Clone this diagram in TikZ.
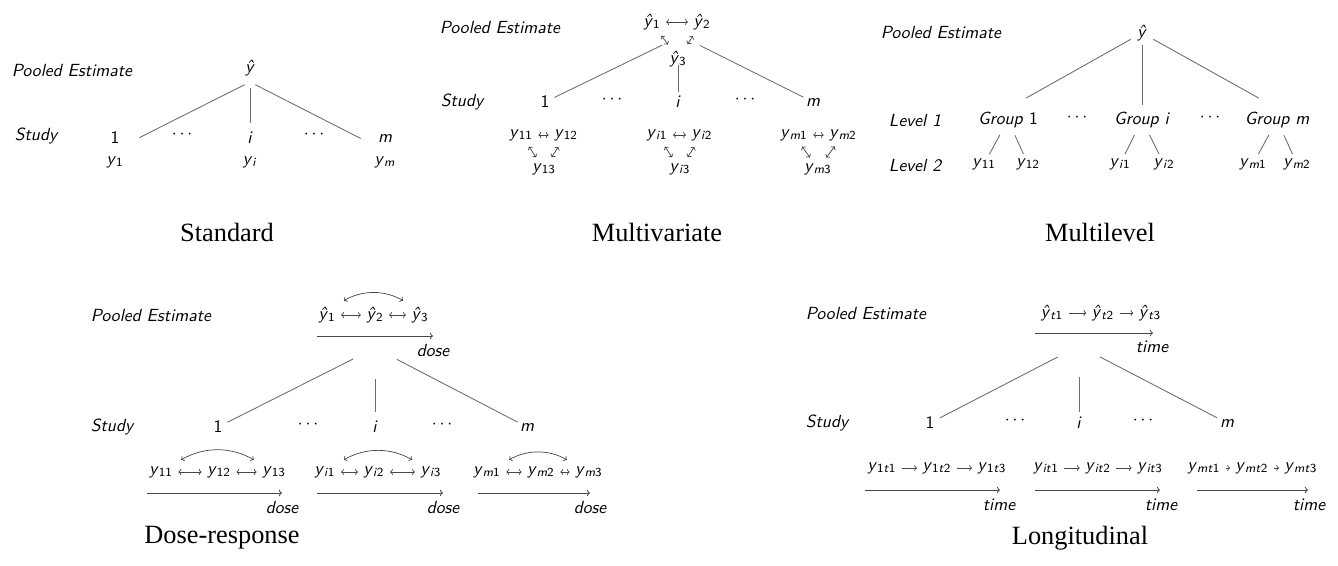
\documentclass[tikz,border=0pt]{standalone}
\usepackage{fontspec}
\usetikzlibrary{arrows.meta, fit}
\newfontfamily\captionserif{Liberation Serif}
\definecolor{branchgray}{RGB}{110, 110, 110}
\definecolor{linkgray}{RGB}{70, 70, 70}
\newcommand{\yy}[1]{\textit{y}\textsubscript{#1}}
\newcommand{\yh}[1]{\textit{ŷ}\textsubscript{#1}}
\tikzstyle{sym} = [font=\fontsize{10}{12}\selectfont\sffamily, inner sep=2pt]
\tikzstyle{lab} = [font=\fontsize{10}{12}\selectfont\sffamily\itshape, inner sep=2pt]
\tikzstyle{grp} = [inner sep=0pt]
\tikzstyle{branch} = [draw=branchgray, line width=0.5pt]
\tikzstyle{link} = [{To[length=1.6pt]}-{To[length=1.6pt]}, draw=linkgray, line width=0.4pt, shorten <=1pt, shorten >=1pt]
\tikzstyle{flow} = [-{To[length=1.6pt]}, draw=linkgray, line width=0.4pt, shorten <=1pt, shorten >=1pt]
\tikzstyle{trend} = [-{To[length=1.8pt]}, draw=linkgray, line width=0.45pt]
\tikzstyle{paneltitle} = [font=\captionserif\fontsize{15}{18}\selectfont]

\begin{document}
\begin{tikzpicture}[x=0.02cm, y=-0.02cm, every node/.style={sym}]
    \useasboundingbox (0,0) rectangle (1338,565);

    % Standard
    \node[lab] (pool1) at (72,70) {Pooled Estimate};
    \node[lab] (study1) at (36,136) {Study};
    \node (top1) at (250,68) {\textit{ŷ}};
    \node (s1a) at (115,138) {1};
    \node (s1dl) at (182,135) {$\cdots$};
    \node (s1i) at (250,138) {\textit{i}};
    \node (s1dr) at (314,135) {$\cdots$};
    \node (s1m) at (385,138) {\textit{m}};
    \node (y1a) at (115,162) {\yy{1}};
    \node (y1i) at (250,162) {\yy{\textit{i}}};
    \node (y1m) at (385,162) {\yy{\textit{m}}};
    \node[grp, fit=(s1a)(y1a)] (g1a) {};
    \node[grp, fit=(s1i)(y1i)] (g1i) {};
    \node[grp, fit=(s1m)(y1m)] (g1m) {};
    \coordinate (hub1) at (250,82);
    \draw[branch, shorten <=3.4pt, shorten >=15.5pt] (hub1) -- (g1a.center);
    \draw[branch, shorten <=3.4pt, shorten >=15.5pt] (hub1) -- (g1i.center);
    \draw[branch, shorten <=3.4pt, shorten >=15.5pt] (hub1) -- (g1m.center);
    \node[paneltitle] (title1) at (227,232) {Standard};

    % Multivariate
    \node[lab] (pool2) at (500,27) {Pooled Estimate};
    \node[lab] (study2) at (462,102) {Study};
    \node (t21) at (652,22) {\yh{1}};
    \node (t22) at (702,22) {\yh{2}};
    \node (t23) at (678,59) {\yh{3}};
    \draw[link] (t21) -- (t22);
    \draw[link, shorten <=9.5pt, shorten >=10pt] (t21.center) -- (t23.center);
    \draw[link, shorten <=9.5pt, shorten >=10pt] (t22.center) -- (t23.center);
    \node (s2a) at (545,102) {1};
    \node (s2dl) at (612,100) {$\cdots$};
    \node (s2i) at (678,102) {\textit{i}};
    \node (s2dr) at (745,100) {$\cdots$};
    \node (s2m) at (813,102) {\textit{m}};
    \coordinate (hub2) at (681,36);
    \draw[branch, shorten <=12pt, shorten >=6pt] (hub2) -- (s2a.center);
    \draw[branch, shorten <=3.4pt, shorten >=5.7pt] (t23.center) -- (s2i.center);
    \draw[branch, shorten <=12pt, shorten >=6pt] (hub2) -- (s2m.center);
    % outcomes per study
    \node (v2a1) at (521,135) {\yy{11}};
    \node (v2a2) at (566,135) {\yy{12}};
    \node (v2a3) at (544,169) {\yy{13}};
    \node (v2i1) at (657,135) {\yy{\textit{i}1}};
    \node (v2i2) at (702,135) {\yy{\textit{i}2}};
    \node (v2i3) at (680,169) {\yy{\textit{i}3}};
    \node (v2m1) at (794,135) {\yy{\textit{m}1}};
    \node (v2m2) at (843,135) {\yy{\textit{m}2}};
    \node (v2m3) at (818,169) {\yy{\textit{m}3}};
    \foreach \s in {a, i, m} {
        \draw[link] (v2\s1) -- (v2\s2);
        \draw[link, shorten <=8pt, shorten >=8pt] (v2\s1.center) -- (v2\s3.center);
        \draw[link, shorten <=8pt, shorten >=8pt] (v2\s2.center) -- (v2\s3.center);
    }
    \node[paneltitle] (title2) at (657,232) {Multivariate};

    % Multilevel
    \node[lab] (pool3) at (941,32) {Pooled Estimate};
    \node[lab] (level31) at (915,120) {Level 1};
    \node[lab] (level32) at (915,165) {Level 2};
    \node (top3) at (1142,33) {\textit{ŷ}};
    \node (g3a) at (1008,120) {\textit{Group} 1};
    \node (g3dl) at (1077,118) {$\cdots$};
    \node (g3i) at (1142,120) {\textit{Group i}};
    \node (g3dr) at (1210,118) {$\cdots$};
    \node (g3m) at (1277,120) {\textit{Group m}};
    \draw[branch, shorten <=7.4pt, shorten >=11.8pt] (top3.center) -- (g3a.north);
    \draw[branch, shorten <=6.8pt, shorten >=2pt] (top3.center) -- (g3i.north);
    \draw[branch, shorten <=7.4pt, shorten >=11.8pt] (top3.center) -- (g3m.north);
    \node (w3a1) at (984,164) {\yy{11}};
    \node (w3a2) at (1028,164) {\yy{12}};
    \node (w3i1) at (1120,164) {\yy{\textit{i}1}};
    \node (w3i2) at (1164,164) {\yy{\textit{i}2}};
    \node (w3m1) at (1253,164) {\yy{\textit{m}1}};
    \node (w3m2) at (1297,164) {\yy{\textit{m}2}};
    \foreach \s in {a, i, m} {
        \draw[branch, shorten <=9.6pt, shorten >=6.3pt] (g3\s.center) -- (w3\s1.center);
        \draw[branch, shorten <=9.6pt, shorten >=6.3pt] (g3\s.center) -- (w3\s2.center);
    }
    \node[paneltitle] (title3) at (1100,232) {Multilevel};

    % Dose-response
    \node[lab] (pool4) at (151,315) {Pooled Estimate};
    \node[lab] (study4) at (112,427) {Study};
    \node (t41) at (327,315) {\yh{1}};
    \node (t42) at (375,315) {\yh{2}};
    \node (t43) at (420,315) {\yh{3}};
    \draw[link] (t41) -- (t42);
    \draw[link] (t42) -- (t43);
    \draw[link, shorten <=3pt, shorten >=3pt] (t41.north east) to[bend left=30] (t43.north west);
    \coordinate (ax4s) at (317,336);
    \coordinate (ax4e) at (433,336);
    \draw[trend] (ax4s) -- (ax4e);
    \node[lab] (dose4) at (433,350) {dose};
    \node (s4a) at (218,427) {1};
    \node (s4dl) at (308,425) {$\cdots$};
    \node (s4i) at (375,427) {\textit{i}};
    \node (s4dr) at (442,425) {$\cdots$};
    \node (s4m) at (527,427) {\textit{m}};
    \coordinate (hub4) at (375,348);
    \draw[branch, shorten <=14pt, shorten >=6pt] (hub4) -- (s4a.center);
    \draw[branch, shorten <=17.6pt, shorten >=8.5pt] (hub4) -- (s4i.center);
    \draw[branch, shorten <=14pt, shorten >=6pt] (hub4) -- (s4m.center);
    % dose rows per study
    \node (v4a1) at (161,472) {\yy{11}};
    \node (v4a2) at (219,472) {\yy{12}};
    \node (v4a3) at (274,472) {\yy{13}};
    \node (v4i1) at (325,472) {\yy{\textit{i}1}};
    \node (v4i2) at (374,472) {\yy{\textit{i}2}};
    \node (v4i3) at (431,472) {\yy{\textit{i}3}};
    \node (v4m1) at (487,472) {\yy{\textit{m}1}};
    \node (v4m2) at (541,472) {\yy{\textit{m}2}};
    \node (v4m3) at (589,472) {\yy{\textit{m}3}};
    \foreach \s in {a, i, m} {
        \draw[link] (v4\s1) -- (v4\s2);
        \draw[link] (v4\s2) -- (v4\s3);
        \draw[link, shorten <=3pt, shorten >=3pt] (v4\s1.north east) to[bend left=30] (v4\s3.north west);
    }
    \coordinate (ax4as) at (147,493);
    \coordinate (ax4ae) at (282,493);
    \coordinate (ax4is) at (317,493);
    \coordinate (ax4ie) at (443,493);
    \coordinate (ax4ms) at (478,493);
    \coordinate (ax4me) at (590,493);
    \draw[trend] (ax4as) -- (ax4ae);
    \draw[trend] (ax4is) -- (ax4ie);
    \draw[trend] (ax4ms) -- (ax4me);
    \node[lab] (dose4a) at (282,507) {dose};
    \node[lab] (dose4i) at (443,507) {dose};
    \node[lab] (dose4m) at (590,507) {dose};
    \node[paneltitle] (title4) at (222,538) {Dose-response};

    % Longitudinal
    \node[lab] (pool5) at (866,313) {Pooled Estimate};
    \node[lab] (study5) at (827,423) {Study};
    \node (t51) at (1052,313) {\yh{\textit{t}1}};
    \node (t52) at (1103,313) {\yh{\textit{t}2}};
    \node (t53) at (1150,313) {\yh{\textit{t}3}};
    \draw[flow] (t51) -- (t52);
    \draw[flow] (t52) -- (t53);
    \coordinate (ax5s) at (1035,333);
    \coordinate (ax5e) at (1153,333);
    \draw[trend] (ax5s) -- (ax5e);
    \node[lab] (time5) at (1152,347) {time};
    \node (s5a) at (930,423) {1};
    \node (s5dl) at (1015,421) {$\cdots$};
    \node (s5i) at (1079,423) {\textit{i}};
    \node (s5dr) at (1143,421) {$\cdots$};
    \node (s5m) at (1227,423) {\textit{m}};
    \coordinate (hub5) at (1079,346);
    \draw[branch, shorten <=13.4pt, shorten >=6.3pt] (hub5) -- (s5a.center);
    \draw[branch, shorten <=17.6pt, shorten >=6.3pt] (hub5) -- (s5i.center);
    \draw[branch, shorten <=13.4pt, shorten >=6.3pt] (hub5) -- (s5m.center);
    % time rows per study
    \node (v5a1) at (882,468) {\yy{1\textit{t}1}};
    \node (v5a2) at (937,468) {\yy{1\textit{t}2}};
    \node (v5a3) at (992,468) {\yy{1\textit{t}3}};
    \node (v5i1) at (1046,468) {\yy{\textit{it}1}};
    \node (v5i2) at (1098,468) {\yy{\textit{it}2}};
    \node (v5i3) at (1150,468) {\yy{\textit{it}3}};
    \node (v5m1) at (1204,468) {\yy{\textit{mt}1}};
    \node (v5m2) at (1252,468) {\yy{\textit{mt}2}};
    \node (v5m3) at (1301,468) {\yy{\textit{mt}3}};
    \foreach \s in {a, i, m} {
        \draw[flow] (v5\s1) -- (v5\s2);
        \draw[flow] (v5\s2) -- (v5\s3);
    }
    \coordinate (ax5as) at (865,490);
    \coordinate (ax5ae) at (1000,490);
    \coordinate (ax5is) at (1035,490);
    \coordinate (ax5ie) at (1160,490);
    \coordinate (ax5ms) at (1197,490);
    \coordinate (ax5me) at (1308,490);
    \draw[trend] (ax5as) -- (ax5ae);
    \draw[trend] (ax5is) -- (ax5ie);
    \draw[trend] (ax5ms) -- (ax5me);
    \node[lab] (time5a) at (999,505) {time};
    \node[lab] (time5i) at (1161,505) {time};
    \node[lab] (time5m) at (1309,505) {time};
    \node[paneltitle] (title5) at (1080,538) {Longitudinal};
\end{tikzpicture}
\end{document}
